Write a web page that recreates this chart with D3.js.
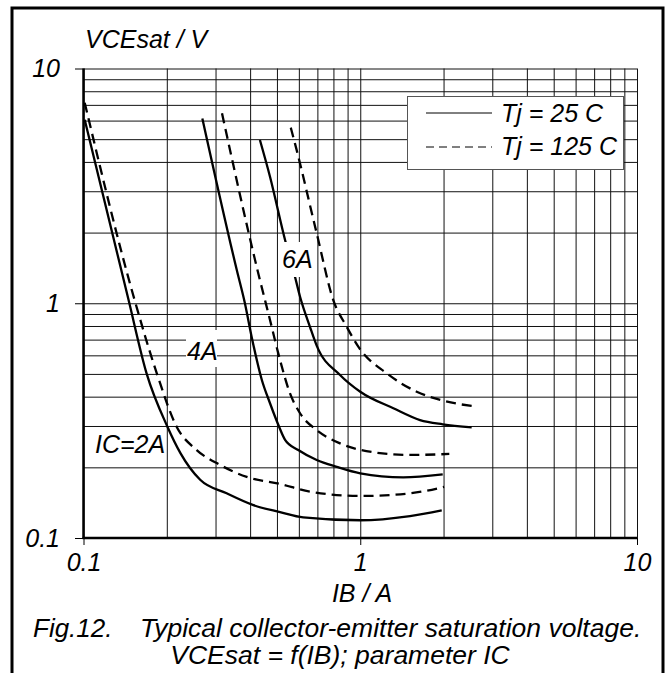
<!DOCTYPE html>
<html>
<head>
<meta charset="utf-8">
<script src="https://cdn.jsdelivr.net/npm/d3@7"></script>
<style>
  body { margin: 0; background: #fff; }
  text { font-family: "Liberation Sans", Arial, sans-serif; font-style: italic; fill: #000; }
</style>
</head>
<body>
<div class="chart"></div>
<script>
// IB / A  vs  VCEsat / V
const ib2_25 = [0.101, 0.145, 0.169, 0.201, 0.224, 0.264, 0.329, 0.411, 0.513, 0.622, 1.0, 1.513, 1.97];
const v2_25  = [6.05, 1.05, 0.503, 0.298, 0.23, 0.177, 0.155, 0.138, 0.129, 0.1225, 0.119, 0.124, 0.131];
const ib2_125 = [0.101, 0.151, 0.184, 0.217, 0.2565, 0.311, 0.389, 0.513, 0.658, 1.0, 1.513, 2.008];
const v2_125  = [7.15, 1.09, 0.503, 0.298, 0.237, 0.205, 0.182, 0.170, 0.1575, 0.151, 0.155, 0.165];
const ib4_25 = [0.2688, 0.358, 0.383, 0.405, 0.441, 0.472, 0.506, 0.535, 0.597, 0.696, 0.822, 1.0, 1.43, 1.986];
const v4_25  = [6.13, 1.385, 1.0, 0.72, 0.471, 0.375, 0.303, 0.262, 0.237, 0.215, 0.201, 0.1886, 0.1814, 0.1867];
const ib4_125 = [0.3166, 0.428, 0.472, 0.513, 0.557, 0.606, 0.696, 0.845, 1.147, 1.513, 2.098];
const v4_125  = [6.44, 1.342, 0.849, 0.573, 0.414, 0.34, 0.288, 0.253, 0.2308, 0.2258, 0.228];
const ib6_25 = [0.434, 0.472, 0.535, 0.581, 0.606, 0.658, 0.696, 0.845, 1.0, 1.317, 1.644, 1.986, 2.527];
const v6_25  = [4.96, 3.46, 1.86, 1.297, 1.066, 0.794, 0.66, 0.495, 0.42, 0.357, 0.318, 0.305, 0.296];
const ib6_125 = [0.561, 0.589, 0.696, 0.799, 0.8933, 0.984, 1.246, 1.6, 1.995, 2.527];
const v6_125  = [5.6, 4.5, 1.987, 1.032, 0.794, 0.653, 0.503, 0.42, 0.3845, 0.365];

const gridTicks = [0.1, 0.2, 0.3, 0.4, 0.5, 0.6, 0.7, 0.8, 0.9, 1, 2, 3, 4, 5, 6, 7, 8, 9, 10];
const majorTicks = [0.1, 1, 10];
const legendLabels = ["Tj = 25 C", "Tj = 125 C"];

const curves = [
  { ib: ib2_25, v: v2_25, dashed: false },
  { ib: ib2_125, v: v2_125, dashed: true },
  { ib: ib4_25, v: v4_25, dashed: false },
  { ib: ib4_125, v: v4_125, dashed: true },
  { ib: ib6_25, v: v6_25, dashed: false },
  { ib: ib6_125, v: v6_125, dashed: true }
];

const W = 667, H = 673;
const plotL = 83.5, plotR = 637, plotT = 68.5, plotB = 538;

const svg = d3.select('.chart')
  .append('svg')
  .attr('width', W)
  .attr('height', H);

// outer frame, runs off the bottom of the picture
svg.append('rect')
  .attr('x', 12).attr('y', 8)
  .attr('width', 651).attr('height', 720)
  .attr('fill', 'none')
  .attr('stroke', '#000')
  .attr('stroke-width', 3);

const x = d3.scaleLog().domain([0.1, 10]).range([plotL, plotR]);
const y = d3.scaleLog().domain([0.1, 10]).range([plotB, plotT]);

// grid
svg.append('g')
  .attr('transform', `translate(0,${plotB})`)
  .call(d3.axisBottom(x).tickValues(gridTicks).tickSize(-(plotB - plotT)).tickFormat(''))
  .call(g => g.select('.domain').remove())
  .selectAll('line').attr('stroke', '#111').attr('stroke-width', 1);

svg.append('g')
  .attr('transform', `translate(${plotL},0)`)
  .call(d3.axisLeft(y).tickValues(gridTicks).tickSize(-(plotR - plotL)).tickFormat(''))
  .call(g => g.select('.domain').remove())
  .selectAll('line').attr('stroke', '#111').attr('stroke-width', 1);

// axes with labelled ticks
const fmt = d => d3.format('~g')(d);
const xAxis = svg.append('g')
  .attr('transform', `translate(0,${plotB})`)
  .call(d3.axisBottom(x).tickValues(majorTicks).tickSize(7).tickPadding(8).tickFormat(fmt));
const yAxis = svg.append('g')
  .attr('transform', `translate(${plotL},0)`)
  .call(d3.axisLeft(y).tickValues(majorTicks).tickSize(8.5).tickPadding(15).tickFormat(fmt));

[xAxis, yAxis].forEach(a => {
  a.select('.domain').remove();
  a.selectAll('line').attr('stroke', '#000').attr('stroke-width', 1);
  a.selectAll('text')
    .attr('font-family', '"Liberation Sans", Arial, sans-serif')
    .attr('font-style', 'italic')
    .attr('font-size', 25)
    .attr('fill', '#000');
});

// heavy left and bottom axis lines
svg.append('line')
  .attr('x1', plotL).attr('x2', plotL).attr('y1', plotT).attr('y2', plotB + 1)
  .attr('stroke', '#000').attr('stroke-width', 2.5);
svg.append('line')
  .attr('x1', plotL - 1).attr('x2', plotR).attr('y1', plotB).attr('y2', plotB)
  .attr('stroke', '#000').attr('stroke-width', 2.5);

// curves
const line = d3.line()
  .x(d => x(d[0]))
  .y(d => y(d[1]))
  .curve(d3.curveMonotoneX);

svg.selectAll('.curve')
  .data(curves)
  .enter().append('path')
  .attr('class', 'curve')
  .attr('d', c => line(c.ib.map((d, i) => [d, c.v[i]])))
  .attr('fill', 'none')
  .attr('stroke', '#000')
  .attr('stroke-width', 2.3)
  .attr('stroke-dasharray', c => c.dashed ? '10,6' : null);

// curve labels with white backing
svg.append('rect').attr('x', 281).attr('y', 242).attr('width', 31).attr('height', 35).attr('fill', '#fff');
svg.append('text').attr('x', 282).attr('y', 268).attr('font-size', 25).text('6A');
svg.append('rect').attr('x', 186).attr('y', 330).attr('width', 31).attr('height', 37).attr('fill', '#fff');
svg.append('text').attr('x', 187).attr('y', 360).attr('font-size', 25).text('4A');
svg.append('text').attr('x', 95).attr('y', 453).attr('font-size', 25).text('IC=2A');

// legend
const legend = svg.append('g');
legend.append('rect')
  .attr('x', 407.5).attr('y', 96.5).attr('width', 216).attr('height', 73)
  .attr('fill', '#fff').attr('stroke', '#555').attr('stroke-width', 1);
legend.selectAll('.lg-line')
  .data(legendLabels)
  .enter().append('line')
  .attr('x1', 426).attr('x2', 492)
  .attr('y1', (d, i) => 113 + i * 34).attr('y2', (d, i) => 113 + i * 34)
  .attr('stroke', '#000').attr('stroke-width', 1)
  .attr('stroke-dasharray', (d, i) => i ? '8,5' : null);
legend.selectAll('.lg-text')
  .data(legendLabels)
  .enter().append('text')
  .attr('x', 501)
  .attr('y', (d, i) => 122 + i * 33)
  .attr('font-size', 25)
  .text(d => d);

// axis titles
svg.append('text').attr('x', 85).attr('y', 48).attr('font-size', 25).text('VCEsat / V');
svg.append('text').attr('x', 362).attr('y', 602).attr('font-size', 25)
  .attr('text-anchor', 'middle').text('IB / A');

// caption
svg.append('text').attr('x', 33).attr('y', 637).attr('font-size', 26).text('Fig.12.');
svg.append('text').attr('x', 140).attr('y', 637).attr('font-size', 26.5)
  .text('Typical collector-emitter saturation voltage.');
svg.append('text').attr('x', 340).attr('y', 664).attr('font-size', 26.5)
  .attr('text-anchor', 'middle').text('VCEsat = f(IB); parameter IC');
</script>
</body>
</html>
